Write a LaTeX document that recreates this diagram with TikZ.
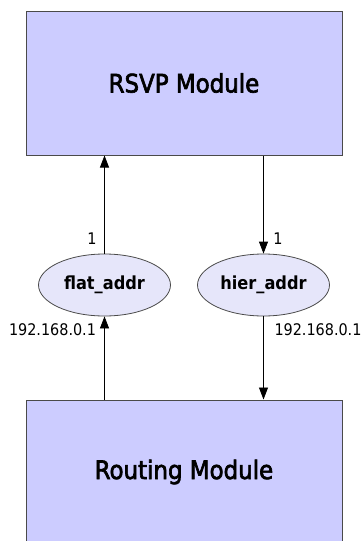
\documentclass[tikz,border=0pt]{standalone}
\usepackage{fontspec}
\setmainfont{DejaVu Sans Condensed}
\newfontfamily\heavyfont{DejaVu Sans Condensed}[FakeBold=2.5]
\usepackage{tikz}
\usetikzlibrary{positioning,arrows.meta,shapes.geometric}
\definecolor{modfill}{HTML}{CCCCFF}
\definecolor{addrfill}{HTML}{E6E6FA}
\definecolor{edgegray}{HTML}{4A4A4A}

\begin{document}
\begin{tikzpicture}[x=1pt,y=-1pt,
  module/.style={draw=edgegray,fill=modfill,line width=1pt,minimum width=316pt,minimum height=144pt,font=\heavyfont\fontsize{25.5}{30}\selectfont},
  addr/.style={ellipse,draw=edgegray,fill=addrfill,line width=0.8pt,minimum width=132pt,minimum height=62pt,inner sep=0pt,font=\fontsize{18}{22}\selectfont\bfseries},
  lbl/.style={inner sep=0pt,font=\fontsize{16}{19}\selectfont},
  flow/.style={-{Triangle[length=12pt,width=9pt]},line width=0.8pt}]
\clip (0,0) rectangle (363,541);
\fill[white] (0,0) rectangle (363,541);

\node [module] (rsvp) at (184,83) {RSVP Module};
\node [module] (routing) at (184,472) {Routing Module};
\node [addr] (flat) at (104.5,285) {flat\_addr};
\node [addr] (hier) at (263.5,285) {hier\_addr};

% flat address goes up
\draw [flow] (routing.north -| flat.south) -- (flat.south);
\draw [flow] (flat.north) -- (flat.north |- rsvp.south);
% hier address goes down
\draw [flow] (rsvp.south -| hier.north) -- (hier.north);
\draw [flow] (hier.south) -- (hier.south |- routing.north);

\node [lbl] (flathead) at (92,239) {1};
\node [lbl] (hierhead) at (278,239) {1};
\node [lbl] (flattail) at (52.5,330) {192.168.0.1};
\node [lbl] (hiertail) at (318,330) {192.168.0.1};

\end{tikzpicture}
\end{document}
